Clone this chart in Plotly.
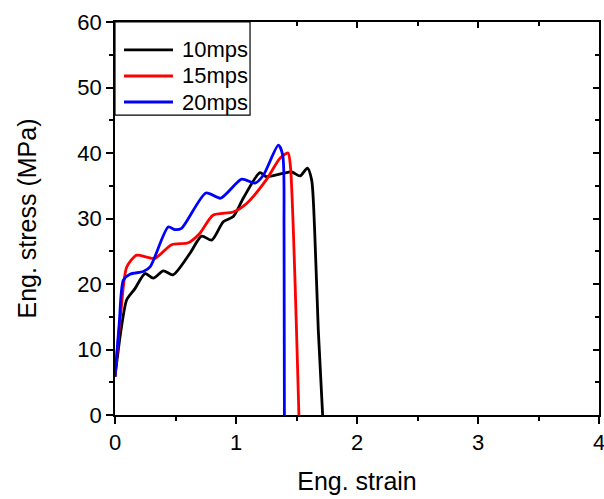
import plotly.graph_objects as go

# Data (strain, stress MPa)
strain_10 = [0, 0.05, 0.097, 0.165, 0.248, 0.317, 0.40, 0.48, 0.62, 0.716, 0.80, 0.895, 0.978, 1.06, 1.198, 1.25, 1.39, 1.46, 1.53, 1.59, 1.625, 1.65, 1.68, 1.716]
stress_10 = [5.85, 13.0, 17.6, 19.3, 21.6, 20.9, 22.0, 21.4, 24.7, 27.3, 26.7, 29.5, 30.3, 33.1, 37.0, 36.4, 36.9, 37.1, 36.5, 37.7, 35.9, 28.2, 13.0, 0]

strain_15 = [0, 0.05, 0.097, 0.179, 0.262, 0.33, 0.468, 0.606, 0.70, 0.81, 0.978, 1.088, 1.25, 1.364, 1.43, 1.45, 1.474, 1.50, 1.52]
stress_15 = [5.85, 16.0, 22.6, 24.4, 24.1, 23.9, 26.0, 26.3, 27.7, 30.5, 31.0, 32.3, 35.9, 39.2, 40.0, 37.9, 28.2, 13.0, 0]

strain_20 = [0, 0.035, 0.069, 0.124, 0.234, 0.29, 0.44, 0.496, 0.55, 0.752, 0.873, 1.047, 1.157, 1.226, 1.35, 1.386, 1.397, 1.40]
stress_20 = [5.85, 14.0, 20.6, 21.5, 21.9, 22.6, 28.7, 28.3, 28.5, 33.9, 33.1, 36.0, 35.4, 36.6, 41.2, 39.7, 28.2, 0]

series_names = ["10mps", "15mps", "20mps"]
series_colors = ["black", "red", "blue"]

x_ticks = [0, 1, 2, 3, 4]
y_ticks = [0, 10, 20, 30, 40, 50, 60]

fig = go.Figure()
for name, color, xs, ys in zip(series_names, series_colors,
                               [strain_10, strain_15, strain_20],
                               [stress_10, stress_15, stress_20]):
    fig.add_trace(go.Scatter(x=xs, y=ys, mode="lines", name=name, showlegend=False,
                             line=dict(color=color, width=2.8, shape="spline", smoothing=0.7)))

font = "Liberation Sans, Arial, sans-serif"
axis_common = dict(showgrid=False, zeroline=False, showline=True, linecolor="black",
                   linewidth=1.5, tickcolor="black", tickwidth=1.5, automargin=False)

# Custom legend (box, line samples, labels) in paper coordinates
shapes = [dict(type="rect", xref="paper", yref="paper", x0=0, x1=0.279, y0=0.763, y1=1,
               line=dict(color="black", width=1.2), fillcolor="white", layer="above")]
annotations = []
leg_y = [0.929, 0.8626, 0.7964]
for name, color, yy in zip(series_names, series_colors, leg_y):
    shapes.append(dict(type="line", xref="paper", yref="paper", x0=0.0186, x1=0.1198,
                       y0=yy, y1=yy, line=dict(color=color, width=2.8), layer="above"))
    annotations.append(dict(text=name, xref="paper", yref="paper", x=0.134, y=yy,
                            xanchor="left", yanchor="middle", showarrow=False,
                            font=dict(size=22, color="black")))

fig.update_layout(
    width=604, height=499,
    margin=dict(l=115, r=5, t=22, b=84),
    paper_bgcolor="white", plot_bgcolor="white",
    font=dict(family=font, size=22, color="black"),
    showlegend=False,
    shapes=shapes, annotations=annotations,
    xaxis=dict(range=[0, 4], tickvals=x_ticks, ticks="outside", ticklen=7,
               ticklabeloverflow="allow",
               minor=dict(dtick=0.5, ticks="outside", ticklen=4, tickcolor="black", tickwidth=1.5),
               title=dict(text="Eng. strain", font=dict(size=25), standoff=18), **axis_common),
    yaxis=dict(range=[0, 60], tickvals=y_ticks, ticks="outside", ticklen=7,
               ticklabeloverflow="allow",
               minor=dict(dtick=5, ticks="outside", ticklen=4, tickcolor="black", tickwidth=1.5),
               title=dict(text="Eng. stress (MPa)", font=dict(size=25), standoff=34), **axis_common),
    xaxis2=dict(range=[0, 4], overlaying="x", side="top", tickvals=x_ticks, ticks="inside",
                ticklen=6, showticklabels=False,
                minor=dict(dtick=0.5, ticks="inside", ticklen=4, tickcolor="black", tickwidth=1.5),
                **axis_common),
    yaxis2=dict(range=[0, 60], overlaying="y", side="right", tickvals=y_ticks, ticks="inside",
                ticklen=6, showticklabels=False,
                minor=dict(dtick=5, ticks="inside", ticklen=4, tickcolor="black", tickwidth=1.5),
                **axis_common),
)
# invisible trace to activate the mirror axes
fig.add_trace(go.Scatter(x=[0], y=[0], xaxis="x2", yaxis="y2", mode="markers",
                         marker=dict(opacity=0), showlegend=False, hoverinfo="skip"))

fig.write_html("out.html", config={"displayModeBar": False},
               post_script="document.body.style.margin='0';document.body.style.overflow='hidden';")
